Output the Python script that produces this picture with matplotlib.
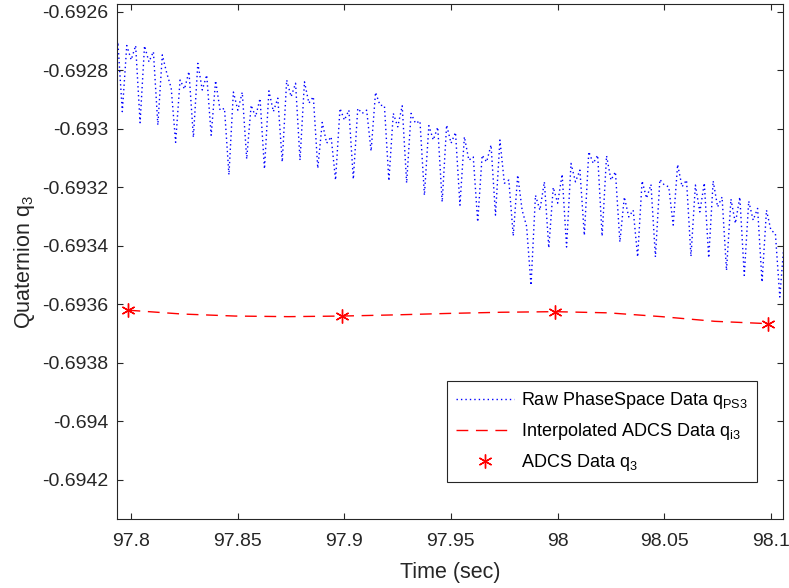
import matplotlib

matplotlib.use("Agg")

import matplotlib.pyplot as plt  # noqa: E402
import numpy as np  # noqa: E402
from matplotlib.ticker import FuncFormatter  # noqa: E402

# --- Datos ---
# PhaseSpace en bruto, muestreado a 480 Hz (primera muestra en t_ps0)
ps_rate = 480.0
t_ps0 = 97.79175
q_ps = [
    -0.692816, -0.692703,
    -0.692941, -0.692715, -0.692764, -0.692715,
    -0.692979, -0.692716, -0.692771, -0.692736,
    -0.692987, -0.692747, -0.692809, -0.692860,
    -0.693046, -0.692833, -0.692864, -0.692804,
    -0.693029, -0.692776, -0.692867, -0.692816,
    -0.693022, -0.692835, -0.692936, -0.692930,
    -0.693157, -0.692874, -0.692936, -0.692875,
    -0.693103, -0.692919, -0.692959, -0.692896,
    -0.693137, -0.692870, -0.692941, -0.692895,
    -0.693113, -0.692833, -0.692890, -0.692844,
    -0.693107, -0.692839, -0.692912, -0.692890,
    -0.693135, -0.692978, -0.693049, -0.693027,
    -0.693175, -0.692930, -0.692970, -0.692936,
    -0.693172, -0.692930, -0.692947, -0.692936,
    -0.693076, -0.692875, -0.692919, -0.692921,
    -0.693178, -0.692947, -0.692993, -0.692921,
    -0.693185, -0.692947, -0.692981, -0.692973,
    -0.693227, -0.692989, -0.693038, -0.692994,
    -0.693250, -0.692987, -0.693049, -0.693012,
    -0.693261, -0.693027, -0.693107, -0.693096,
    -0.693318, -0.693090, -0.693113, -0.693055,
    -0.693295, -0.693038, -0.693186, -0.693175,
    -0.693366, -0.693158, -0.693278, -0.693333,
    -0.693535, -0.693227, -0.693278, -0.693181,
    -0.693407, -0.693200, -0.693254, -0.693155,
    -0.693404, -0.693118, -0.693181, -0.693141,
    -0.693364, -0.693078, -0.693118, -0.693090,
    -0.693367, -0.693092, -0.693175, -0.693147,
    -0.693387, -0.693233, -0.693301, -0.693278,
    -0.693438, -0.693178, -0.693237, -0.693190,
    -0.693438, -0.693173, -0.693192, -0.693198,
    -0.693329, -0.693122, -0.693198, -0.693175,
    -0.693436, -0.693192, -0.693284, -0.693185,
    -0.693441, -0.693178, -0.693267, -0.693233,
    -0.693484, -0.693240, -0.693323, -0.693233,
    -0.693501, -0.693247, -0.693312, -0.693272,
    -0.693524, -0.693278, -0.693347, -0.693357,
    -0.693575, -0.693381,
]

# ADCS (10 Hz)
t_adcs = [97.7988, 97.8988, 97.9988, 98.0988]
q_adcs = [-0.693620, -0.693640, -0.693625, -0.693666]

# Curva interpolada ADCS
t_interp = [97.7988, 97.8238, 97.8488, 97.8738, 97.8988, 97.9238, 97.9488,
            97.9738, 97.9988, 98.0238, 98.0488, 98.0738, 98.0988]
q_interp = [-0.693620, -0.693633, -0.693640, -0.693642, -0.693640, -0.693636,
            -0.693631, -0.693627, -0.693625, -0.693629, -0.693642, -0.693658,
            -0.693666]

x_ticks = [97.8, 97.85, 97.9, 97.95, 98.0, 98.05, 98.1]
y_ticks = [-0.6942, -0.694, -0.6938, -0.6936, -0.6934, -0.6932, -0.693,
           -0.6928, -0.6926]

plt.rcParams["font.family"] = ["Liberation Sans", "DejaVu Sans"]
plt.rcParams["mathtext.fontset"] = "custom"
plt.rcParams["mathtext.rm"] = "Liberation Sans"

t_ps = t_ps0 + np.arange(len(q_ps)) / ps_rate

grey = (0.15, 0.15, 0.15)
fig = plt.figure(figsize=(7.89, 5.88), dpi=100)
ax = fig.add_axes([0.1483, 0.1173, 0.8437, 0.8759])

ax.plot(t_ps, q_ps, color="blue", lw=1.0, linestyle=(0, (1, 2.2)),
        label=r"Raw PhaseSpace Data q$_{\mathrm{PS3}}$")
ax.plot(t_interp, q_interp, color="red", lw=1.0, linestyle=(0, (8.5, 5.5)),
        label=r"Interpolated ADCS Data q$_{\mathrm{i3}}$")
ax.plot(t_adcs, q_adcs, linestyle="none", marker=(6, 2, 0), ms=10, mew=1.0,
        color="red", label=r"ADCS Data q$_{\mathrm{3}}$")

ax.set_xlim(97.79343, 98.1056)
ax.set_ylim(-0.694334, -0.692573)
ax.set_xticks(x_ticks)
ax.set_yticks(y_ticks)
fmt = FuncFormatter(lambda v, _: f"{v:g}")
ax.xaxis.set_major_formatter(fmt)
ax.yaxis.set_major_formatter(fmt)
ax.tick_params(direction="in", top=True, right=True, length=4.5,
               width=0.8, colors=grey, labelsize=14, pad=6)
ax.tick_params(axis="x", pad=10)
for s in ax.spines.values():
    s.set_color(grey)
    s.set_linewidth(0.8)

ax.set_xlabel("Time (sec)", fontsize=15.5, color=grey, labelpad=9)
ax.set_ylabel(r"Quaternion q$_{\mathrm{3}}$", fontsize=15.5, color=grey, labelpad=4)

leg = ax.legend(loc="lower right", bbox_to_anchor=(0.9614, 0.0718),
                borderaxespad=0, fontsize=13, fancybox=False, framealpha=1,
                edgecolor=grey, handlelength=3.2, handletextpad=0.4,
                borderpad=0.5, labelspacing=0.55)
leg.get_frame().set_linewidth(0.8)

fig.savefig("out.png", dpi=100)
